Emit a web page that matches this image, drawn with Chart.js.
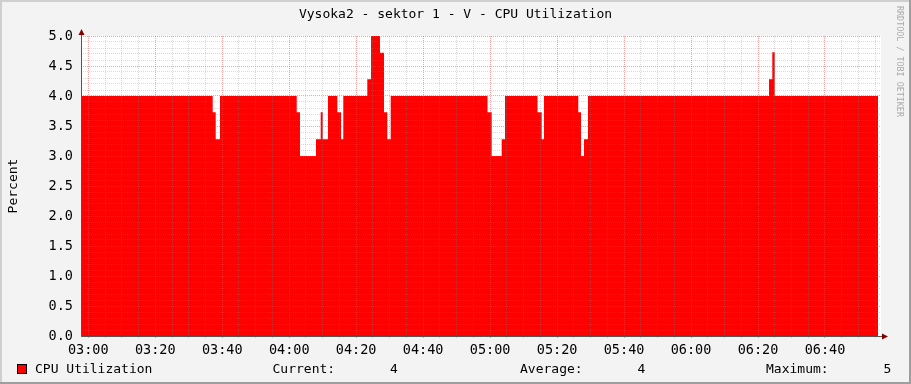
<!DOCTYPE html>
<html>
<head>
<meta charset="utf-8">
<title>Vysoka2 - sektor 1 - V - CPU Utilization</title>
<script src="https://cdn.jsdelivr.net/npm/chart.js@4.4.1/dist/chart.umd.min.js"></script>
<style>
  html, body { margin: 0; padding: 0; background: #f3f3f3; }
  canvas { display: block; }
</style>
</head>
<body>
<canvas id="cpuChart" width="911" height="384"></canvas>
<script>
// minutes after 03:00 where the value changes, and the value held from there on
const changeMinutes = [-2.18, 37.15, 38.05, 39.33, 62.24, 63.22, 68.0, 69.4, 70.0, 71.58, 74.36, 75.47, 76.15,
  83.32, 84.43, 87.11, 88.31, 89.29, 90.31, 119.22, 120.47, 123.46, 124.44, 134.15, 135.4, 136.09,
  146.33, 147.14, 148.04, 149.23, 203.29, 204.27, 204.99, 235.84];
const cpuValues = [4.0, 3.73, 3.28, 4.0, 3.73, 3.0, 3.28, 3.73, 3.28, 4.0, 3.73, 3.28, 4.0,
  4.28, 5.0, 4.72, 3.73, 3.28, 4.0, 3.73, 3.0, 3.28, 4.0, 3.73, 3.28, 4.0,
  3.73, 3.0, 3.28, 4.0, 4.28, 4.73, 4.0, 4.0];

const timeLabels = ["03:00", "03:20", "03:40", "04:00", "04:20", "04:40",
  "05:00", "05:20", "05:40", "06:00", "06:20", "06:40"];
const percentLabels = ["0.0", "0.5", "1.0", "1.5", "2.0", "2.5", "3.0", "3.5", "4.0", "4.5", "5.0"];

const MONO = "'DejaVu Sans Mono', 'Liberation Mono', monospace";
const minorGrid = "rgba(130,130,130,0.3)";
const majorGrid = "rgba(240,68,68,0.5)";

const points = changeMinutes.map((m, i) => ({ x: m, y: cpuValues[i] }));

// legend numbers, like the GPRINT lines
const current = cpuValues[cpuValues.length - 1];
const maximum = Math.max(...cpuValues);
let weighted = 0;
for (let i = 0; i < changeMinutes.length - 1; i++) {
  weighted += cpuValues[i] * (changeMinutes[i + 1] - changeMinutes[i]);
}
const average = weighted / (changeMinutes[changeMinutes.length - 1] - changeMinutes[0]);

const isMajorTime = v => Math.round(v) % 20 === 0;
const isMajorPercent = v => Math.round(v * 10) % 5 === 0;

const rrdFrame = {
  id: "rrdFrame",
  beforeDraw(chart) {
    const { ctx, chartArea } = chart;
    ctx.save();
    ctx.fillStyle = "#f3f3f3";
    ctx.fillRect(0, 0, chart.width, chart.height);
    ctx.fillStyle = "#cfcfcf";
    ctx.fillRect(0, 0, chart.width, 2);
    ctx.fillRect(0, 0, 2, chart.height);
    ctx.fillStyle = "#9e9e9e";
    ctx.fillRect(0, chart.height - 2, chart.width, 2);
    ctx.fillRect(chart.width - 2, 0, 2, chart.height);
    ctx.fillStyle = "#ffffff";
    ctx.fillRect(chartArea.left, chartArea.top, chartArea.right - chartArea.left, chartArea.bottom - chartArea.top);
    ctx.restore();
  },
  afterDraw(chart) {
    const { ctx, chartArea } = chart;
    const left = chartArea.left, bottom = chartArea.bottom;
    ctx.save();

    // axes with arrows
    ctx.strokeStyle = "#555555";
    ctx.lineWidth = 1;
    ctx.beginPath();
    ctx.moveTo(left + 0.5, chartArea.top - 5);
    ctx.lineTo(left + 0.5, bottom + 0.5);
    ctx.lineTo(chartArea.right + 5, bottom + 0.5);
    ctx.stroke();
    ctx.fillStyle = "#800000";
    ctx.beginPath();
    ctx.moveTo(left + 0.5, chartArea.top - 7);
    ctx.lineTo(left - 2.5, chartArea.top - 1);
    ctx.lineTo(left + 3.5, chartArea.top - 1);
    ctx.fill();
    ctx.beginPath();
    ctx.moveTo(chartArea.right + 7, bottom + 0.5);
    ctx.lineTo(chartArea.right + 1, bottom - 2.5);
    ctx.lineTo(chartArea.right + 1, bottom + 3.5);
    ctx.fill();

    // title
    ctx.fillStyle = "#000000";
    ctx.font = "13px " + MONO;
    ctx.textAlign = "center";
    ctx.textBaseline = "alphabetic";
    ctx.fillText("Vysoka2 - sektor 1 - V - CPU Utilization", chart.width / 2, 18);

    // vertical label
    ctx.save();
    ctx.translate(17, (chartArea.top + bottom) / 2);
    ctx.rotate(-Math.PI / 2);
    ctx.fillText("Percent", 0, 0);
    ctx.restore();

    // watermark
    ctx.save();
    ctx.translate(899, 6);
    ctx.rotate(Math.PI / 2);
    ctx.textAlign = "left";
    ctx.textBaseline = "middle";
    ctx.fillStyle = "#aaaaaa";
    ctx.font = "8.4px " + MONO;
    ctx.fillText("RRDTOOL / TOBI OETIKER", 0, 0);
    ctx.restore();

    // legend
    ctx.fillStyle = "#ff0000";
    ctx.fillRect(17, 364, 10, 10);
    ctx.strokeStyle = "#000000";
    ctx.strokeRect(17.5, 364.5, 9, 9);
    ctx.fillStyle = "#000000";
    ctx.textAlign = "left";
    ctx.font = "13px " + MONO;
    ctx.fillText("CPU Utilization", 35, 373);
    ctx.fillText("Current:" + current.toFixed(0).padStart(8), 272.5, 373);
    ctx.fillText("Average:" + average.toFixed(0).padStart(8), 520, 373);
    ctx.fillText("Maximum:" + maximum.toFixed(0).padStart(8), 766, 373);
    ctx.restore();
  }
};

const ctx = document.getElementById("cpuChart").getContext("2d");
new Chart(ctx, {
  type: "line",
  data: {
    datasets: [{
      label: "CPU Utilization",
      data: points,
      stepped: true,
      fill: "origin",
      backgroundColor: "#ff0000",
      borderColor: "rgba(0,0,0,0)",
      borderWidth: 0,
      pointRadius: 0
    }]
  },
  options: {
    responsive: false,
    animation: false,
    events: [],
    layout: { padding: { left: 0, top: 36, right: 30, bottom: 0 } },
    plugins: { legend: { display: false }, title: { display: false }, tooltip: { enabled: false } },
    scales: {
      x: {
        type: "linear",
        min: -2.18,
        max: 236.73,
        // a grid line every 5 minutes, labelled every 20
        afterBuildTicks: scale => {
          const ticks = [];
          for (let m = 0; m <= scale.max; m += 5) ticks.push({ value: m });
          scale.ticks = ticks;
        },
        afterFit: scale => { scale.height = 48; },
        grid: {
          z: 1,
          drawTicks: true,
          tickLength: 2,
          color: c => isMajorTime(c.tick.value) ? majorGrid : minorGrid
        },
        border: { display: false, dash: [1, 1] },
        ticks: {
          autoSkip: false,
          maxRotation: 0,
          padding: 4,
          color: "#000000",
          font: { family: MONO, size: 13.5 },
          callback: v => isMajorTime(v) ? timeLabels[Math.round(v) / 20] : ""
        }
      },
      y: {
        min: 0,
        max: 5,
        afterFit: scale => { scale.width = 81; },
        grid: {
          z: 1,
          drawTicks: false,
          color: c => isMajorPercent(c.tick.value) ? majorGrid : minorGrid
        },
        border: { display: false, dash: [1, 1] },
        ticks: {
          stepSize: 0.1,
          autoSkip: false,
          padding: 8,
          color: "#000000",
          font: { family: MONO, size: 13.5 },
          callback: v => isMajorPercent(v) ? percentLabels[Math.round(v * 10) / 5] : ""
        }
      }
    }
  },
  plugins: [rrdFrame]
});
</script>
</body>
</html>
